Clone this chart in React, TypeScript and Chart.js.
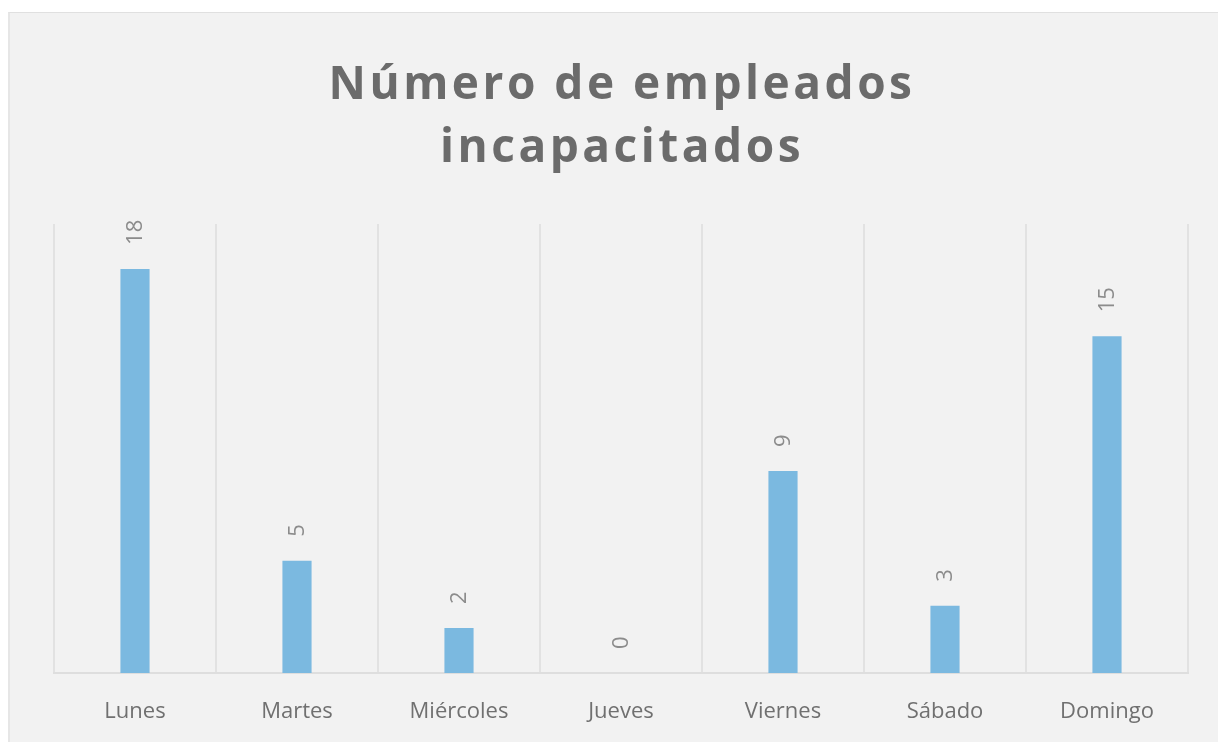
import React, { useEffect, useRef } from "react";
import { Chart, registerables } from "chart.js";

Chart.register(...registerables);

const DAYS = ["Lunes", "Martes", "Miércoles", "Jueves", "Viernes", "Sábado", "Domingo"];
const VALUES = [18, 5, 2, 0, 9, 3, 15];
const TITLE_LINES = ["Número de empleados", "incapacitados"];
const Y_MAX = 20;

const W = 1209;
const H = 729;

const titlePlugin = {
  id: "spacedTitle",
  afterDraw(chart: any) {
    const { ctx, chartArea } = chart;
    const cx = (chartArea.left + chartArea.right) / 2;
    ctx.save();
    ctx.font = "bold 46px 'Open Sans'";
    (ctx as any).letterSpacing = "3.5px";
    ctx.fillStyle = "#6b6b6b";
    ctx.textAlign = "center";
    ctx.textBaseline = "alphabetic";
    const baselines = [86, 149];
    TITLE_LINES.forEach((line, i) => {
      ctx.fillText(line, cx + 1, baselines[i]);
    });
    ctx.restore();
  },
};

const valueLabelPlugin = {
  id: "valueLabels",
  afterDatasetsDraw(chart: any) {
    const { ctx } = chart;
    const meta = chart.getDatasetMeta(0);
    ctx.save();
    ctx.font = "22px 'Open Sans'";
    ctx.fillStyle = "#8c8c8c";
    ctx.textAlign = "left";
    ctx.textBaseline = "middle";
    meta.data.forEach((bar: any, i: number) => {
      ctx.save();
      ctx.translate(bar.x + 1, bar.y - 24);
      ctx.rotate(-Math.PI / 2);
      ctx.fillText(String(VALUES[i]), 0, 0);
      ctx.restore();
    });
    ctx.restore();
  },
};

export default function App() {
  const ref = useRef<HTMLCanvasElement>(null);
  useEffect(() => {
    if (!ref.current) return;
    const chart = new Chart(ref.current, {
      type: "bar",
      data: {
        labels: DAYS,
        datasets: [
          {
            data: VALUES,
            backgroundColor: "#7bb9e0",
            barPercentage: 1,
            categoryPercentage: 0.18,
          },
        ],
      },
      options: {
        animation: false,
        responsive: false,
        devicePixelRatio: 1,
        layout: { padding: { left: 44, right: 31, top: 211, bottom: 0 } },
        plugins: {
          legend: { display: false },
          title: { display: false },
          tooltip: { enabled: false },
        },
        scales: {
          x: {
            grid: { offset: true, color: "#e2e2e2", lineWidth: 2, drawTicks: false },
            border: { display: true, color: "#dedede", width: 2 },
            ticks: {
              color: "#707070",
              font: { family: "'Open Sans'", size: 22 },
              padding: 26,
            },
            afterFit(s: any) {
              s.height = 69;
            },
          },
          y: {
            display: false,
            min: 0,
            max: Y_MAX,
          },
        },
      },
      plugins: [titlePlugin, valueLabelPlugin],
    });
    return () => chart.destroy();
  }, []);

  return (
    <div
      style={{
        position: "fixed",
        left: 8,
        top: 12,
        width: 1210,
        height: 730,
        background: "#f2f2f2",
        borderTop: "1px solid #e0e0e0",
        borderLeft: "2px solid #e6e6e6",
        boxSizing: "border-box",
      }}
    >
      <canvas ref={ref} width={W} height={H} style={{ display: "block" }} />
    </div>
  );
}
